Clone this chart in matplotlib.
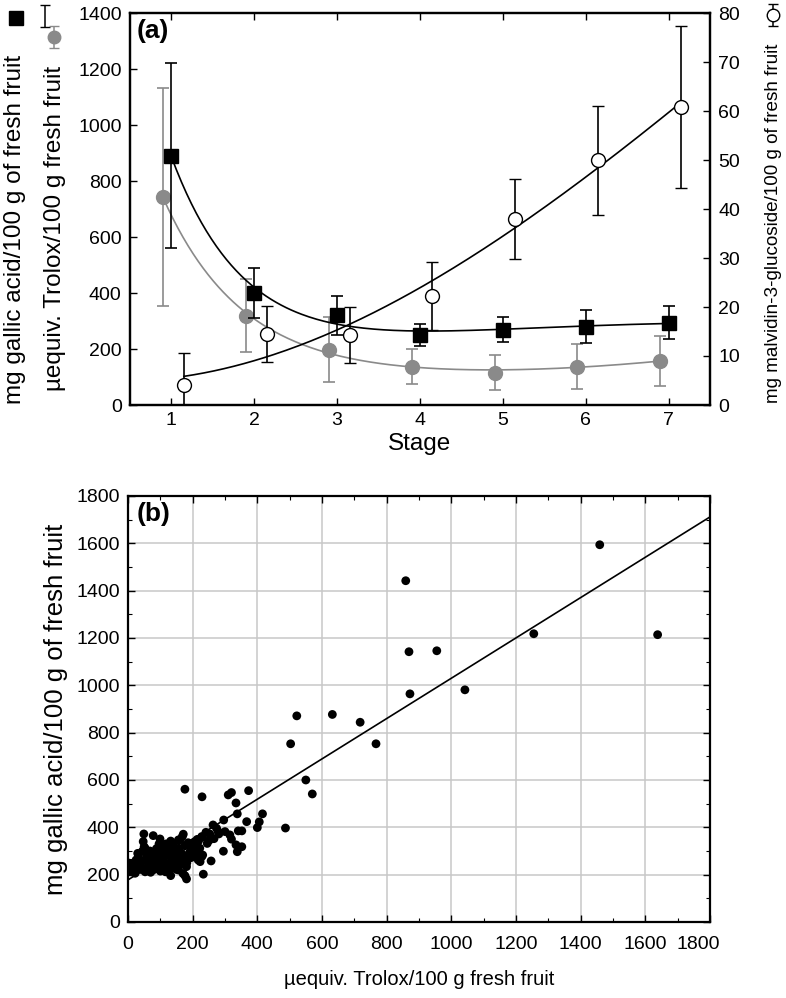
import numpy as np
import matplotlib
matplotlib.use("Agg")
import matplotlib.pyplot as plt
import matplotlib.transforms as transforms
from matplotlib.ticker import MultipleLocator

plt.rcParams["font.family"] = ["Liberation Sans", "DejaVu Sans"]

# panel (a): ripening stages
STAGES = [1, 2, 3, 4, 5, 6, 7]
GALLIC = [890, 400, 320, 250, 269, 280, 294]
GALLIC_ERR = [330, 90, 70, 40, 45, 60, 60]
TROLOX = [742, 319, 198, 137, 116, 137, 158]
TROLOX_ERR = [390, 130, 115, 62, 63, 80, 90]
MALVIDIN = [4.1, 14.5, 14.3, 22.3, 38.0, 49.9, 60.8]
MALVIDIN_ERR = [6.5, 5.8, 5.7, 6.9, 8.2, 11.2, 16.5]

# panel (b): Trolox vs gallic acid, all samples
TROLOX_B = [1459, 1638, 1255, 1042, 955, 869, 859, 872,
            522, 632, 718, 503, 767, 550, 570, 487,
            176, 229, 310, 320, 373, 334, 338, 416, 406, 400, 367, 352, 341,
            315, 320, 334, 352, 338, 296, 263, 274, 281, 295, 251, 241, 228,
            214, 202, 192, 231, 223, 217, 257, 233, 176, 181, 171, 168, 78,
            99, 49, 47, 50, 49, 132, 156, 279, 253, 230, 207, 186, 161,
            53, 130, 145, 119, 9, 11, 32, 37, 63, 83, 94, 104, 114, 135, 145,
            161, 176, 181, 156, 132, 78, 53, 22, 228, 223, 0,
            20, 25, 30, 40, 45, 55, 60, 62, 68, 70, 72, 75, 80, 86, 88, 92,
            97, 100, 102, 106, 110, 112, 116, 122, 126, 128, 131, 137, 140,
            147, 150, 152, 157, 160, 166, 170, 172, 176, 182, 190, 195, 200,
            206, 212, 218, 222, 245, 266, 300, 118, 96, 40, 15, 5]
GALLIC_B = [1594, 1214, 1218, 981, 1146, 1142, 1442, 964,
            871, 877, 844, 753, 753, 600, 541, 397,
            561, 529, 537, 547, 555, 503, 457, 457, 423, 399, 424, 385, 385,
            368, 350, 326, 318, 297, 431, 410, 396, 372, 299, 345, 379, 361,
            349, 335, 318, 283, 272, 262, 258, 202, 196, 182, 371, 361, 365,
            351, 372, 340, 318, 297, 342, 347, 382, 372, 358, 340, 335, 347,
            311, 318, 304, 297, 248, 212, 276, 241, 248, 276, 255, 283, 248,
            269, 241, 255, 262, 234, 220, 196, 220, 212, 206, 276, 255, 250,
            230, 262, 290, 222, 300, 265, 232, 282, 300, 210, 262, 240, 292,
            226, 310, 244, 270, 215, 300, 234, 262, 322, 212, 282, 240, 302,
            226, 256, 330, 282, 222, 262, 312, 240, 290, 205, 272, 322, 250,
            292, 272, 302, 322, 292, 342, 312, 332, 352, 382, 330, 330, 260,
            225, 215]
FIT_INTERCEPT = 178
FIT_SLOPE = 0.852
B_TICKS = [0, 200, 400, 600, 800, 1000, 1200, 1400, 1600, 1800]

GREY = "#8a8a8a"


def fit_decay(x, y):
    # exponential fall plus a gentle quadratic rise
    x = np.asarray(x, float)
    y = np.asarray(y, float)
    t = x - x[0]
    best = None
    for b in np.linspace(0.6, 1.1, 51):
        A = np.column_stack([np.exp(-b * t), np.ones_like(t), t, t ** 2])
        coef = np.linalg.lstsq(A, y, rcond=None)[0]
        err = np.sum((A @ coef - y) ** 2)
        if best is None or err < best[0]:
            best = (err, b, coef)
    _, b, coef = best
    xs = np.linspace(x[0], x[-1], 200)
    ts = xs - x[0]
    A = np.column_stack([np.exp(-b * ts), np.ones_like(ts), ts, ts ** 2])
    return xs, A @ coef


def fit_cubic(x, y):
    p = np.polyfit(x, y, 3)
    xs = np.linspace(min(x), max(x), 200)
    return xs, np.polyval(p, xs)


def style_ticks(ax, length=5):
    ax.tick_params(direction="in", length=length, width=1, labelsize=14, pad=6)
    for s in ax.spines.values():
        s.set_linewidth(1.6)


def legend_symbol(fig, x, y, marker, face, color):
    W, H = 786, 998
    lax = fig.add_axes([(x - 10) / W, 1 - (y + 14) / H, 20 / W, 28 / H])
    lax.errorbar([0], [0], yerr=[1], fmt=marker, ms=9, mfc=face, mec=color,
                 color=color, ecolor=color, capsize=3.5, elinewidth=1.1,
                 capthick=1.1, mew=1)
    lax.set_xlim(-1, 1)
    lax.set_ylim(-1.25, 1.25)
    lax.axis("off")
    return lax


fig = plt.figure(figsize=(7.86, 9.98), dpi=100)

# ---------- panel (a)
ax = fig.add_axes([130 / 786, 1 - 405 / 998, 580 / 786, 392 / 998])
ax2 = ax.twinx()

x_tr = np.array(STAGES) - 0.1
x_mv = np.array(STAGES) + 0.15

xs, ys = fit_decay(x_tr, TROLOX)
ax.plot(xs, ys, color=GREY, lw=1.2, zorder=2)
ax.errorbar(x_tr, TROLOX, yerr=TROLOX_ERR, fmt="o", ms=10, mfc=GREY, mec=GREY,
            ecolor=GREY, capsize=4, elinewidth=1.2, capthick=1.2, zorder=3)

xs, ys = fit_decay(STAGES, GALLIC)
ax.plot(xs, ys, color="black", lw=1.2, zorder=4)
ax.errorbar(STAGES, GALLIC, yerr=GALLIC_ERR, fmt="s", ms=10, mfc="black",
            mec="black", ecolor="black", capsize=4, elinewidth=1.2,
            capthick=1.2, zorder=5)

xs, ys = fit_cubic(x_mv, MALVIDIN)
ax2.plot(xs, ys, color="black", lw=1.2, zorder=4)
ax2.errorbar(x_mv, MALVIDIN, yerr=MALVIDIN_ERR, fmt="o", ms=10, mfc="white",
             mec="black", mew=1, ecolor="black", capsize=4, elinewidth=1.2,
             capthick=1.2, zorder=5)

ax.set_xlim(0.5, 7.5)
ax.set_ylim(0, 1400)
ax2.set_ylim(0, 80)
ax.set_xticks(STAGES)
ax.yaxis.set_major_locator(MultipleLocator(200))
ax2.yaxis.set_major_locator(MultipleLocator(10))
style_ticks(ax)
style_ticks(ax2)
ax.tick_params(axis="x", top=True, pad=5)
ax.tick_params(axis="y", right=False)
ax.set_xlabel("Stage", fontsize=17.5, labelpad=3)
ax.text(0.012, 0.985, "(a)", transform=ax.transAxes, ha="left", va="top",
        fontsize=19, fontweight="bold")

fig.text(15 / 786, 1 - 229 / 998, "mg gallic acid/100 g of fresh fruit",
         rotation=90, ha="center", va="center", fontsize=17.5)
fig.text(55 / 786, 1 - 228 / 998, "µequiv. Trolox/100 g fresh fruit",
         rotation=90, ha="center", va="center", fontsize=17.5)
fig.text(773 / 786, 1 - 223 / 998,
         "mg malvidin-3-glucoside/100 g of fresh fruit",
         rotation=90, ha="center", va="center", fontsize=13.6)

sq = fig.add_axes([5 / 786, 1 - 30 / 998, 22 / 786, 24 / 998])
sq.plot([0], [0], "s", ms=10, color="black")
sq.axis("off")
legend_symbol(fig, 45, 16, "none", "none", "black")
legend_symbol(fig, 54, 37, "o", GREY, GREY)
legend_symbol(fig, 773, 15, "o", "white", "black")

# ---------- panel (b)
bx = fig.add_axes([128 / 786, 1 - 922 / 998, 582 / 786, 426 / 998])
bx.scatter(TROLOX_B, GALLIC_B, s=40, color="black", edgecolors="none", zorder=3)
line_x = np.array([0, 1800])
bx.plot(line_x, FIT_INTERCEPT + FIT_SLOPE * line_x, color="black", lw=1.2,
        zorder=4)
bx.set_xlim(0, 1800)
bx.set_ylim(0, 1800)
bx.set_xticks(B_TICKS, [str(v) for v in B_TICKS])
bx.set_yticks(B_TICKS)
bx.xaxis.set_minor_locator(MultipleLocator(100))
bx.yaxis.set_minor_locator(MultipleLocator(100))
bx.grid(True, which="major", color="#c8c8c8", lw=1.1)
bx.set_axisbelow(True)
style_ticks(bx)
bx.tick_params(which="both", top=True, right=True)
bx.tick_params(axis="x", pad=10)
bx.tick_params(which="minor", direction="in", length=3, width=0.8)
bx.set_xlabel("µequiv. Trolox/100 g fresh fruit", fontsize=14.5, labelpad=12)
bx.set_ylabel("mg gallic acid/100 g of fresh fruit", fontsize=18.5, labelpad=6)
bx.text(0.015, 0.985, "(b)", transform=bx.transAxes, ha="left", va="top",
        fontsize=19, fontweight="bold",
        bbox=dict(facecolor="white", edgecolor="none", pad=1))
last = bx.get_xticklabels()[-1]
last.set_transform(last.get_transform()
                   + transforms.ScaledTranslation(-0.12, 0, fig.dpi_scale_trans))

fig.savefig("out.png", dpi=100)
